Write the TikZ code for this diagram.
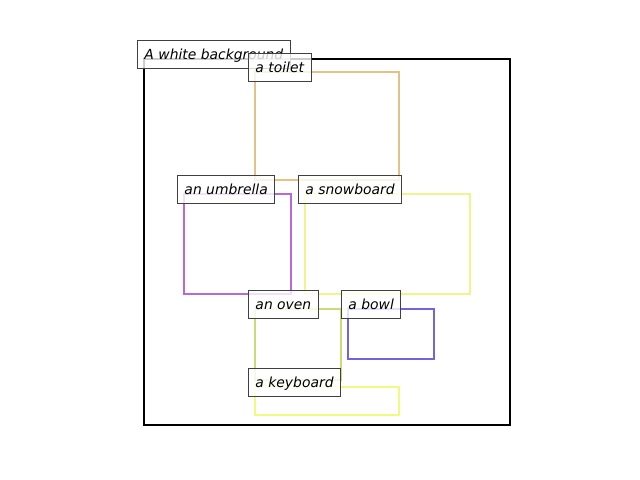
\documentclass[tikz,border=0pt]{standalone}
\usepackage{fontspec}
\setmainfont{DejaVu Sans}
\begin{document}
\begin{tikzpicture}[x=0.72pt,y=-0.72pt,
  bbox/.style={line width=1.5pt},
  lbl/.style={draw=black!75, line width=0.7pt, fill=white, fill opacity=0.8, text opacity=1,
    anchor=base west, inner xsep=5pt, inner ysep=0pt, text height=13pt, text depth=6.5pt,
    font=\fontsize{10}{12}\selectfont\itshape, xshift=-5pt}]
\useasboundingbox (0,0) rectangle (640,480);
\definecolor{ctoilet}{HTML}{E3C283}
\definecolor{cumb}{HTML}{B868D8}
\definecolor{csnow}{HTML}{EEF58A}
\definecolor{coven}{HTML}{C8DC78}
\definecolor{cbowl}{HTML}{7264DC}
\definecolor{ckey}{HTML}{F0FA80}
% boxes
\draw[bbox, black] (144,59) rectangle (510,425);
\draw[bbox, ctoilet] (255,72) rectangle (399,180);
\draw[bbox, cumb] (184,194) rectangle (291,294);
\draw[bbox, csnow] (305,194) rectangle (470,294);
\draw[bbox, coven] (255,309) rectangle (341,380);
\draw[bbox, cbowl] (348,309) rectangle (434,359);
\draw[bbox, ckey] (255,387) rectangle (399,415);
% labels
\node[lbl] (lbg) at (144,59) {A white background};
\node[lbl] (ltoilet) at (255,72) {a toilet};
\node[lbl] (lumb) at (184,194) {an umbrella};
\node[lbl] (lsnow) at (305,194) {a snowboard};
\node[lbl] (loven) at (255,309) {an oven};
\node[lbl] (lbowl) at (348,309) {a bowl};
\node[lbl] (lkey) at (255,387) {a keyboard};
\end{tikzpicture}
\end{document}
